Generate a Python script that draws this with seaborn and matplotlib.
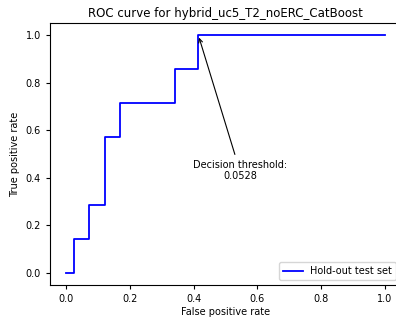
import matplotlib
matplotlib.use("Agg")
import matplotlib.pyplot as plt
import seaborn as sns
import pandas as pd

# ROC curve vertices (hold-out test set)
fpr = [0.0, 0.0244, 0.0244, 0.0732, 0.0732, 0.1220, 0.1220, 0.1707, 0.1707,
       0.3415, 0.3415, 0.4146, 0.4146, 1.0]
tpr = [0.0, 0.0, 0.1429, 0.1429, 0.2857, 0.2857, 0.5714, 0.5714, 0.7143,
       0.7143, 0.8571, 0.8571, 1.0, 1.0]
series_label = "Hold-out test set"
threshold_point = (0.4146, 1.0)
threshold_text = "Decision threshold:\n0.0528"
title = "ROC curve for hybrid_uc5_T2_noERC_CatBoost"

df = pd.DataFrame({"fpr": fpr, "tpr": tpr, "set": series_label})

fig = plt.figure(figsize=(3.96, 3.20), dpi=100)
ax = fig.add_axes([50 / 396, 35 / 320, 351 / 396, 262 / 320])

sns.lineplot(data=df, x="fpr", y="tpr", hue="set", palette=["blue"],
             estimator=None, sort=False, ax=ax, linewidth=1.3)

ax.annotate(threshold_text, xy=threshold_point, xytext=(0.545, 0.43),
            ha="center", va="center", fontsize=7,
            arrowprops=dict(arrowstyle="->", color="black", lw=0.8))

ax.set_xlim(-0.05, 1.05)
ax.set_ylim(-0.05, 1.05)
ax.set_xticks([0.0, 0.2, 0.4, 0.6, 0.8, 1.0])
ax.set_yticks([0.0, 0.2, 0.4, 0.6, 0.8, 1.0])
ax.tick_params(labelsize=7, length=3)
ax.set_xlabel("False positive rate", fontsize=7, labelpad=2)
ax.set_ylabel("True positive rate", fontsize=7, labelpad=4)
ax.set_title(title, fontsize=8.5, pad=4)
ax.legend(loc="lower right", fontsize=7, handlelength=2)

fig.savefig("out.png", dpi=100)
